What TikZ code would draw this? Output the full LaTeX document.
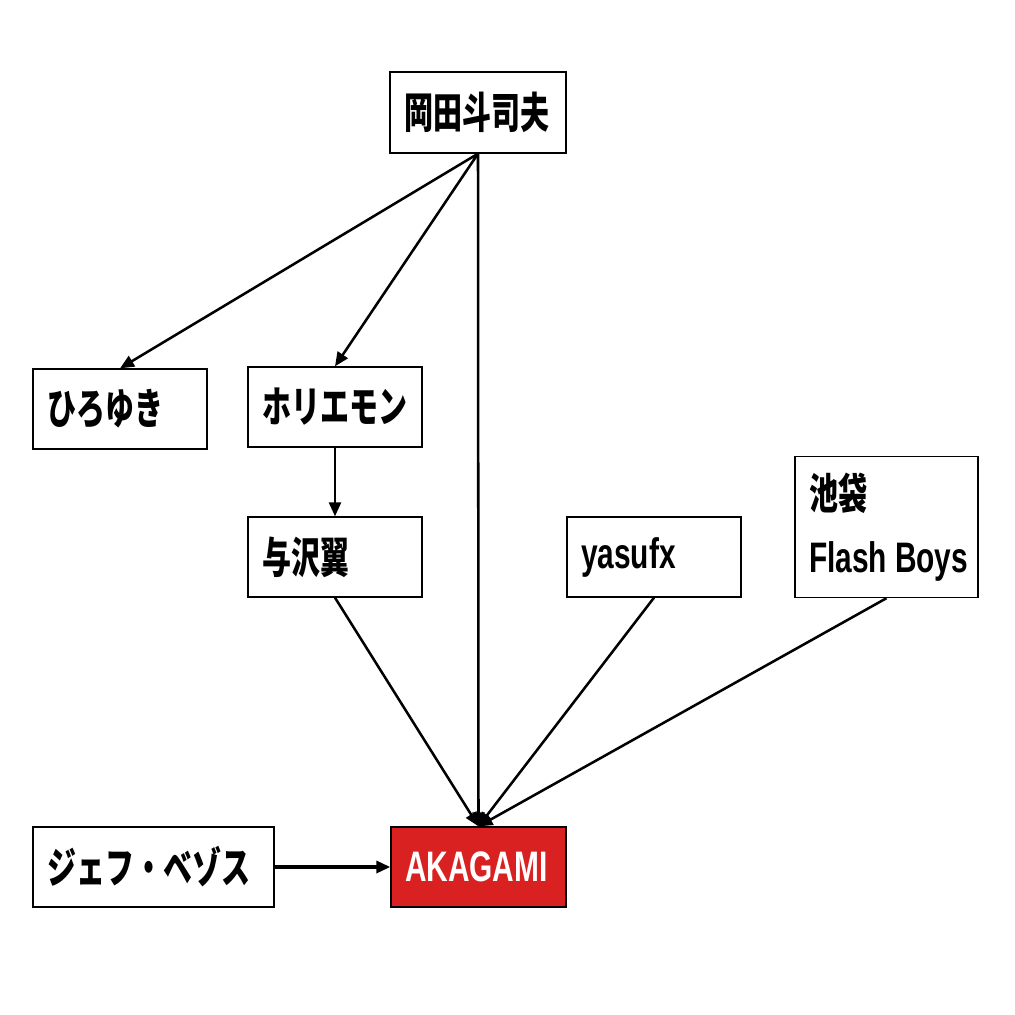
\documentclass[tikz,border=0pt]{standalone}
\usepackage{fontspec}
\setmainfont{Liberation Sans}[FakeStretch=0.7]
\newfontfamily\cjk{Noto Sans CJK JP}[FakeStretch=0.68]
\usetikzlibrary{arrows.meta}
\definecolor{akared}{HTML}{DA2121}
\begin{document}
\begin{tikzpicture}[x=0.75pt,y=-0.75pt,
  box/.style={draw=black,line width=1pt,fill=white,rectangle,inner xsep=10.5pt,inner ysep=0pt,
    align=left,font=\fontsize{32}{47}\selectfont\bfseries},
  conn/.style={line width=1.9pt,-{Stealth[length=10.5pt,width=9pt,inset=0pt]}}]
\useasboundingbox (0,0) rectangle (1015,1015);
\node[box,text width=111pt,minimum height=60.75pt] (okada) at (478,112.5) {\cjk 岡田斗司夫};
\node[box,text width=109.5pt,minimum height=60pt] (hiro) at (120,409) {\cjk ひろゆき};
\node[box,text width=109.5pt,minimum height=60pt] (hori) at (335,407) {\cjk ホリエモン};
\node[box,text width=109.5pt,minimum height=60pt] (yoza) at (335,557) {\cjk 与沢翼};
\node[box,text width=109.5pt,minimum height=60pt] (yasu) at (654,557) {yasufx};
\node[box,text width=116.25pt,minimum height=105.75pt] (ike) at (886.5,527) {{\cjk 池袋}\\\mbox{Flash\hspace{0.19em}Boys}};
\node[box,text width=159.75pt,minimum height=60pt] (jeff) at (153.5,867) {\cjk ジェフ・ベゾス};
\node[box,fill=akared,text=white,text width=110.25pt,minimum height=60pt] (aka) at (478.5,867) {AKAGAMI};
\draw[conn] (okada.south) -- (hiro.north);
\draw[conn] (okada.south) -- (hori.north);
\draw[conn] (okada.south) -- (aka.north);
\draw[conn] (hori.south) -- (yoza.north);
\draw[conn] (yoza.south) -- (aka.north);
\draw[conn] (yasu.south) -- (aka.north);
\draw[conn] (ike.south) -- (aka.north);
\draw[conn,line width=2.4pt] (jeff.east) -- (aka.west);
\end{tikzpicture}
\end{document}
